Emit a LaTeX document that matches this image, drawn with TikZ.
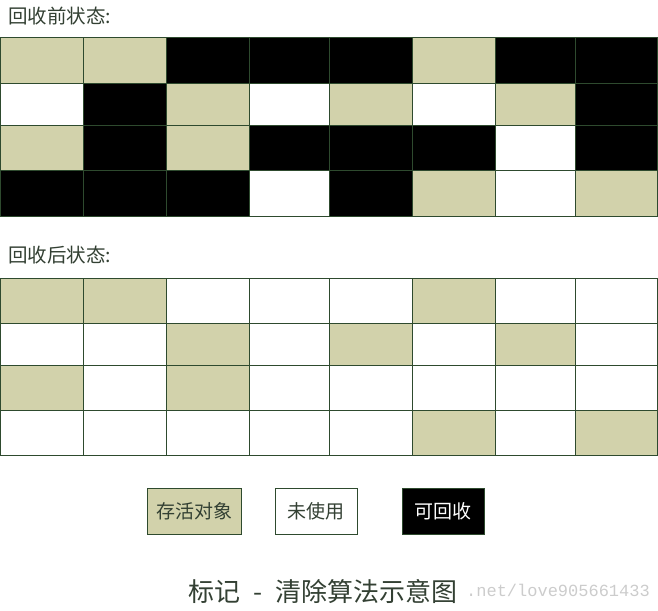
\documentclass[tikz,border=0pt]{standalone}
\usepackage{fontspec}
\setmainfont{Liberation Serif}
\newfontfamily\cjk{Noto Sans CJK SC}
\newfontfamily\wmfont{Liberation Mono}
\definecolor{cK}{HTML}{D2D2AB}
\definecolor{cB}{HTML}{000000}
\definecolor{cW}{HTML}{FFFFFF}
\colorlet{dK}{cK}
\colorlet{dB}{white}
\colorlet{dW}{white}
\definecolor{gridline}{HTML}{2E4A2E}
\definecolor{txt}{HTML}{334033}
\begin{document}
\begin{tikzpicture}[x=1pt,y=-1pt,
  cell/.style={draw=gridline, line width=1pt},
  heading/.style={anchor=west, text=txt, font=\cjk\fontsize{19.5}{21}\selectfont, inner sep=0pt},
  legendbox/.style={draw=gridline, line width=1pt, minimum height=46pt, inner sep=0pt, font=\cjk\fontsize{19}{21}\selectfont, text=txt},
  ]
\useasboundingbox (0,0) rectangle (658,610);
\def\colx{{0,83,166,249,329,412,495,575,657}}
\def\toprow{{38,83,125,170,216}}
\def\botrow{{278,323,365,410,455}}
\foreach \r/\cells in {0/{K,K,B,B,B,K,B,B},1/{W,B,K,W,K,W,K,B},2/{K,B,K,B,B,B,W,B},3/{B,B,B,W,B,K,W,K}}{
  \foreach \t [count=\c from 0] in \cells {
    \pgfmathsetmacro\xa{\colx[\c]}
    \pgfmathsetmacro\xb{\colx[\c+1]}
    \pgfmathsetmacro\ya{\toprow[\r]}
    \pgfmathsetmacro\yb{\toprow[\r+1]}
    \pgfmathsetmacro\za{\botrow[\r]}
    \pgfmathsetmacro\zb{\botrow[\r+1]}
    \draw[cell, fill=c\t] (\xa,\ya) rectangle (\xb,\yb);
    \draw[cell, fill=d\t] (\xa,\za) rectangle (\xb,\zb);
  }
}
\node[heading] (before) at (8,16) {回收前状态:};
\node[heading] (after) at (8,255) {回收后状态:};
\node[legendbox, fill=cK, minimum width=94pt] (live) at (194,511) {存活对象};
\node[legendbox, fill=white, minimum width=82pt] (unused) at (316,511) {未使用};
\node[legendbox, fill=black, text=white, minimum width=82pt] (reclaim) at (443,511) {可回收};
\node[anchor=east, text=black!20, font=\wmfont\fontsize{17}{19}\selectfont, inner sep=0pt] (wm) at (650,590) {.net/love905661433};
\node[text=txt, font=\cjk\fontsize{26}{28}\selectfont, inner sep=0pt] (title) at (323,592) {标记\hspace{13pt}-\hspace{13pt}清除算法示意图};
\end{tikzpicture}
\end{document}
